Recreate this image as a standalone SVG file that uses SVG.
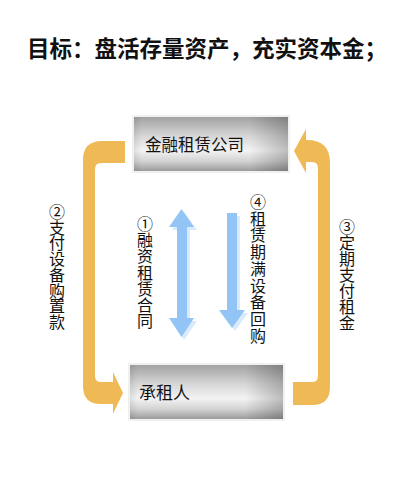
<svg xmlns="http://www.w3.org/2000/svg" width="402" height="477" viewBox="0 0 402 477">
  <style>
    .title { font-family: "Noto Sans CJK SC", "Liberation Sans", sans-serif; font-size: 22.5px; font-weight: bold; fill: #111; }
    .box-label { font-family: "Noto Sans CJK SC", "Liberation Sans", sans-serif; font-size: 16.5px; fill: #111; }
    .vlabel { font-family: "Noto Sans CJK SC", "Liberation Sans", sans-serif; font-size: 16px; fill: #111; writing-mode: vertical-rl; text-orientation: upright; }
    .orange { fill: #EFB956; }
    .blue { fill: #92C5F6; }
    .blue-glow { fill: #D8EAFB; }
    .box-edge { fill: none; stroke: #ececec; stroke-width: 1.5; }
  </style>
  <defs>
    <linearGradient id="boxV" x1="0" y1="0" x2="0" y2="1">
      <stop offset="0" stop-color="#a2a2a2"/>
      <stop offset="0.35" stop-color="#d6d6d6"/>
      <stop offset="0.62" stop-color="#f3f3f3"/>
      <stop offset="0.82" stop-color="#d2d2d2"/>
      <stop offset="1" stop-color="#9c9c9c"/>
    </linearGradient>
    <linearGradient id="boxH" x1="0" y1="0" x2="1" y2="0">
      <stop offset="0" stop-color="#000" stop-opacity="0.08"/>
      <stop offset="0.05" stop-color="#000" stop-opacity="0"/>
      <stop offset="0.75" stop-color="#000" stop-opacity="0"/>
      <stop offset="1" stop-color="#000" stop-opacity="0.22"/>
    </linearGradient>
  </defs>

  <rect width="402" height="477" fill="#ffffff"/>

  <text class="title" x="27" y="56.5">目标：盘活存量资产，充实资本金；</text>

  <g id="node-lessor">
    <rect class="box-edge" x="133" y="116" width="156" height="56"/>
    <rect x="134" y="117" width="154" height="54" fill="url(#boxV)"/>
    <rect x="134" y="117" width="154" height="54" fill="url(#boxH)"/>
    <text class="box-label" x="145" y="151">金融租赁公司</text>
  </g>

  <g id="node-lessee">
    <rect class="box-edge" x="129" y="364" width="155" height="56"/>
    <rect x="130" y="365" width="153" height="54" fill="url(#boxV)"/>
    <rect x="130" y="365" width="153" height="54" fill="url(#boxH)"/>
    <text class="box-label" x="139" y="399" style="font-size:17px">承租人</text>
  </g>

  <g id="connectors">
    <!-- ② payment for equipment purchase: lessor -> lessee -->
    <g id="edge-payment">
      <path class="orange" d="M125,141 L102,141 Q83,141 83,160 L83,386 Q83,404 101,404 L113,404 L113,414 L123,393 L113,372 L113,382 L101,382 Q95,382 95,376 L95,169 Q95,163 101,163 L125,163 Z"/>
      <text class="vlabel" x="57" y="204" style="letter-spacing:-0.3px">②支付设备购置款</text>
    </g>

    <!-- ③ periodic rent: lessee -> lessor -->
    <g id="edge-rent">
      <path class="orange" d="M293,405 L312,405 Q330,405 330,387 L330,163 Q330,140 307,140 L306,140 L306,129 L294,151 L306,173 L306,162 L312,162 Q318,162 318,168 L318,376 Q318,382 312,382 L293,382 Z"/>
      <text class="vlabel" x="347" y="219">③定期支付租金</text>
    </g>

    <!-- ① financial lease contract: both directions -->
    <g id="edge-contract">
      <path class="blue-glow" d="M184,212 L197,230 L190,230 L190,321 L197,321 L184,340 L172,321 L180,321 L180,230 L172,230 Z"/>
      <path class="blue" d="M181.5,209 L194,227 L187,227 L187,318 L194,318 L181.5,337 L169,318 L177,318 L177,227 L169,227 Z"/>
      <text class="vlabel" x="145" y="216" style="letter-spacing:0.2px">①融资租赁合同</text>
    </g>

    <!-- ④ buy-back at lease end: lessor -> lessee -->
    <g id="edge-buyback">
      <path class="blue-glow" d="M230,216 L240,216 L240,313 L248,313 L235,331 L222,313 L230,313 Z"/>
      <path class="blue" d="M227,213 L237,213 L237,310 L245,310 L232,328 L219,310 L227,310 Z"/>
      <text class="vlabel" x="258" y="194" style="letter-spacing:0.7px">④租赁期满设备回购</text>
    </g>
  </g>
</svg>
